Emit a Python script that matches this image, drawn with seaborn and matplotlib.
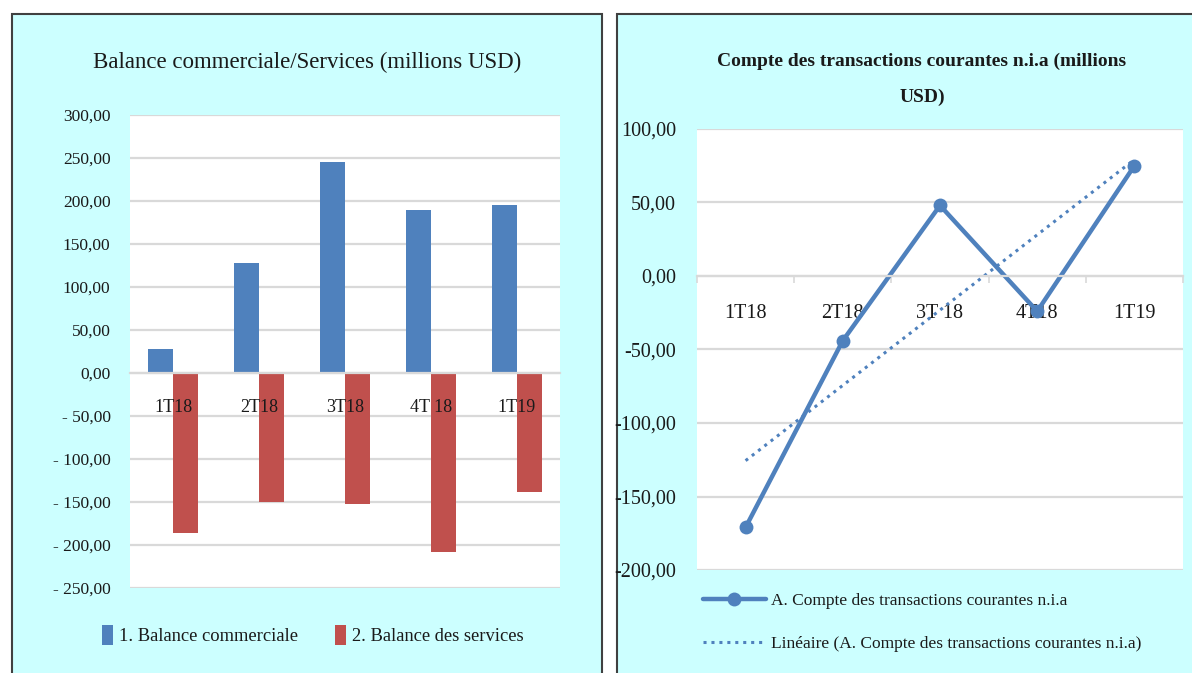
import numpy as np
import pandas as pd
import matplotlib
matplotlib.use("Agg")
import matplotlib.pyplot as plt
from matplotlib.patches import Rectangle
from matplotlib.ticker import FuncFormatter, MultipleLocator
import seaborn as sns

# data
quarters = ["1T18", "2T18", "3T18", "4T18", "1T19"]
bar_labels = ["1T18", "2T18", "3T18", "4T 18", "1T19"]
line_labels = ["1T18", "2T18", "3T 18", "4T18", "1T19"]
balance_commerciale = [28, 128, 245, 190, 195]
balance_services = [-186, -150, -152, -208, -138]
compte_courant = [-171, -44, 48, -24, 75]

series_names = ["1. Balance commerciale", "2. Balance des services"]
line_name = "A. Compte des transactions courantes n.i.a"
trend_name = "Linéaire (A. Compte des transactions courantes n.i.a)"

BLUE = "#4F81BD"
RED = "#C0504D"
CYAN = "#CCFFFF"
GRID = "#D9D9D9"
TXT = "#1a1a1a"

sns.set_theme(style="white")
plt.rcParams["font.family"] = ["Liberation Serif", "DejaVu Serif"]

W, H = 1192, 673
fig = plt.figure(figsize=(W / 100, H / 100), dpi=100)
fig.patch.set_facecolor("white")

def px_rect(x0, y0, x1, y1):
    # figure-pixel box (top-left origin) -> figure fraction
    return [x0 / W, 1 - y1 / H, (x1 - x0) / W, (y1 - y0) / H]

# panel backgrounds
for x0, x1 in [(12, 602), (617, 1200)]:
    fig.patches.append(Rectangle((x0 / W, -0.05), (x1 - x0) / W, 1 - 14 / H + 0.05,
                                 transform=fig.transFigure, facecolor=CYAN,
                                 edgecolor="#404040", linewidth=1.5, zorder=-10))

# ---------- left: bars ----------
ax1 = fig.add_axes(px_rect(130, 115, 560, 588))
df = pd.DataFrame({
    "quarter": quarters * 2,
    "value": balance_commerciale + balance_services,
    "serie": [series_names[0]] * 5 + [series_names[1]] * 5,
})
sns.barplot(data=df, x="quarter", y="value", hue="serie", order=quarters,
            palette=[BLUE, RED], width=0.57, saturation=1, ax=ax1,
            edgecolor="none", legend=True)
ax1.set_xlim(-0.5, 4.5)
ax1.set_ylim(-250, 300)
ax1.yaxis.set_major_locator(MultipleLocator(50))
ax1.yaxis.set_major_formatter(FuncFormatter(
    lambda v, p: f"{v:.2f}".replace(".", ",") if v >= 0 else "- " + f"{-v:.2f}".replace(".", ",")))
ax1.set_xticks(range(5))
ax1.set_xticklabels(bar_labels)
ax1.set_xlabel("")
ax1.set_ylabel("")
ax1.grid(axis="y", color=GRID, linewidth=1.6)
ax1.set_axisbelow(True)
ax1.xaxis.set_zorder(5)
for s in ["top", "left", "right"]:
    ax1.spines[s].set_visible(False)
ax1.spines["bottom"].set_position(("data", 0))
ax1.spines["bottom"].set_color(GRID)
ax1.spines["bottom"].set_linewidth(1.6)
ax1.tick_params(axis="x", length=0, pad=19, labelsize=13, labelcolor=TXT)
ax1.tick_params(axis="y", length=0, pad=14, labelsize=12.5, labelcolor=TXT)
fig.text(307 / W, 1 - 62 / H, "Balance commerciale/Services (millions USD)",
         fontsize=16.5, color=TXT, ha="center", va="center")
leg1 = ax1.legend(loc="center", bbox_to_anchor=(0.425, -0.1), ncol=2, frameon=False,
                  fontsize=13.3, handlelength=0.6, handleheight=1.3, handletextpad=0.3,
                  columnspacing=2.0)
for t in leg1.get_texts():
    t.set_color(TXT)

# ---------- right: line + linear trend ----------
ax2 = fig.add_axes(px_rect(697, 129, 1183, 570))
xi = np.arange(len(quarters))
sns.lineplot(x=xi, y=compte_courant, ax=ax2, color=BLUE, linewidth=3.2,
             marker="o", markersize=10, markeredgewidth=0, label=line_name)
sns.regplot(x=xi, y=np.array(compte_courant, dtype=float), ax=ax2, scatter=False,
            ci=None, truncate=True, color=BLUE, label=trend_name,
            line_kws=dict(linestyle=(0, (1, 1.6)), linewidth=2.2))
ax2.set_xlim(-0.5, 4.5)
ax2.set_ylim(-200, 100)
ax2.yaxis.set_major_locator(MultipleLocator(50))
ax2.yaxis.set_major_formatter(FuncFormatter(lambda v, p: f"{v:.2f}".replace(".", ",")))
ax2.set_xticks(xi)
ax2.set_xticklabels(line_labels)
ax2.set_xticks(np.arange(-0.5, 5, 1), minor=True)
ax2.set_xlabel("")
ax2.set_ylabel("")
ax2.grid(axis="y", color=GRID, linewidth=1.6)
ax2.set_axisbelow(True)
for s in ["top", "left", "right"]:
    ax2.spines[s].set_visible(False)
ax2.spines["bottom"].set_position(("data", 0))
ax2.spines["bottom"].set_color(GRID)
ax2.spines["bottom"].set_linewidth(1.6)
ax2.tick_params(axis="x", which="major", length=0, pad=20, labelsize=14.5, labelcolor=TXT)
ax2.tick_params(axis="x", which="minor", bottom=True, length=5, width=1.2, color=GRID,
                direction="out")
ax2.tick_params(axis="y", length=0, pad=15, labelsize=14.5, labelcolor=TXT)
fig.text(922 / W, 1 - 79 / H, "Compte des transactions courantes n.i.a (millions\nUSD)",
         fontsize=14, fontweight="bold", color=TXT, ha="center", va="center",
         linespacing=2.4)
leg2 = ax2.legend(loc="upper left", bbox_to_anchor=(697 / W - 0.008, 1 - 577 / H),
                  bbox_transform=fig.transFigure, frameon=False, fontsize=12.5,
                  handlelength=3.6, handletextpad=0.3, labelspacing=1.55)
for t in leg2.get_texts():
    t.set_color(TXT)

fig.savefig("out.png", dpi=100)
